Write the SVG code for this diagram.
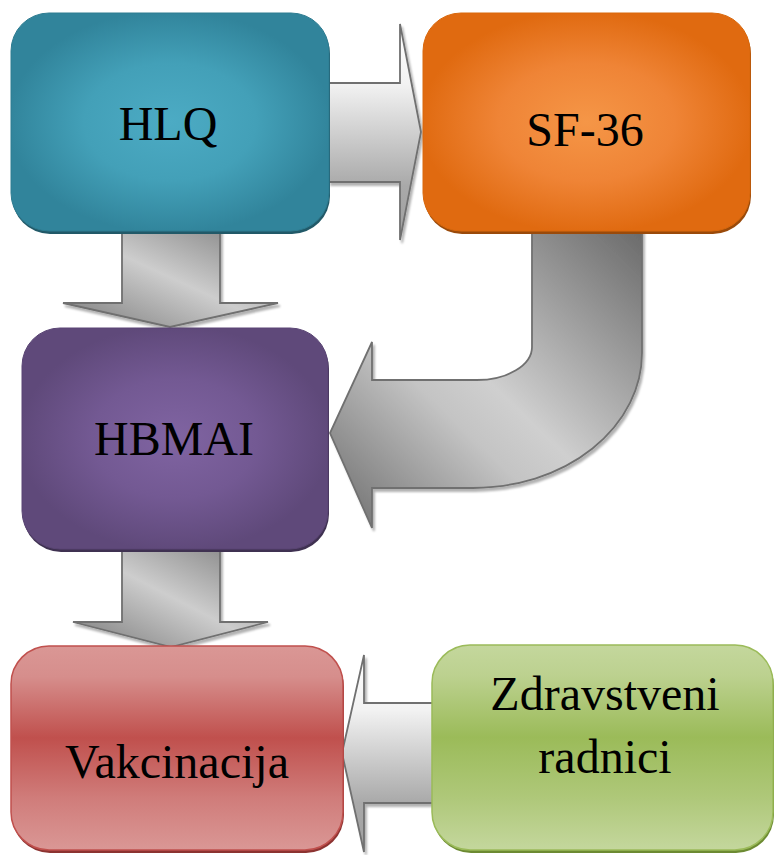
<svg xmlns="http://www.w3.org/2000/svg" width="775" height="855" viewBox="0 0 775 855">
  <defs>
    <style>
      .label { font-family: "Liberation Serif", "Times New Roman", serif; font-size: 48px; fill: #000; text-anchor: middle; }
      .arrow { stroke: #707070; stroke-width: 1.8; stroke-linejoin: miter; filter: url(#arrowShadow); }
    </style>
    <filter id="arrowShadow" x="-10%" y="-10%" width="130%" height="130%">
      <feDropShadow dx="2" dy="3" stdDeviation="1.2" flood-color="#000" flood-opacity="0.3"/>
    </filter>
    <!-- box fills -->
    <radialGradient id="gTeal" cx="0.5" cy="0.5" r="0.6">
      <stop offset="0" stop-color="#4cabc4"/>
      <stop offset="0.45" stop-color="#43a0b8"/>
      <stop offset="0.85" stop-color="#31849b"/>
    </radialGradient>
    <radialGradient id="gOrange" cx="0.5" cy="0.5" r="0.6">
      <stop offset="0" stop-color="#f59647"/>
      <stop offset="0.45" stop-color="#ef8436"/>
      <stop offset="0.85" stop-color="#e06a10"/>
    </radialGradient>
    <radialGradient id="gPurple" cx="0.5" cy="0.5" r="0.6">
      <stop offset="0" stop-color="#8064a2"/>
      <stop offset="0.45" stop-color="#735993"/>
      <stop offset="0.85" stop-color="#5f497a"/>
    </radialGradient>
    <linearGradient id="gRed" x1="0" y1="0" x2="0" y2="1">
      <stop offset="0" stop-color="#da9795"/>
      <stop offset="0.15" stop-color="#d68e8c"/>
      <stop offset="0.45" stop-color="#c0504d"/>
      <stop offset="0.75" stop-color="#d07d7b"/>
      <stop offset="1" stop-color="#da9795"/>
    </linearGradient>
    <linearGradient id="gGreen" x1="0" y1="0" x2="0" y2="1">
      <stop offset="0" stop-color="#c4d79d"/>
      <stop offset="0.15" stop-color="#bcd18f"/>
      <stop offset="0.45" stop-color="#9bbb59"/>
      <stop offset="0.75" stop-color="#afc87a"/>
      <stop offset="1" stop-color="#c4d79d"/>
    </linearGradient>
    <!-- connector fills -->
    <linearGradient id="gArrowDiag" x1="1" y1="0" x2="0" y2="1">
      <stop offset="0" stop-color="#7a7a7a"/>
      <stop offset="0.5" stop-color="#cdcdcd"/>
      <stop offset="1" stop-color="#7a7a7a"/>
    </linearGradient>
    <linearGradient id="gArrowVert" x1="0" y1="0" x2="0" y2="1">
      <stop offset="0" stop-color="#ffffff"/>
      <stop offset="0.28" stop-color="#f2f2f2"/>
      <stop offset="0.75" stop-color="#a9a9a9"/>
      <stop offset="1" stop-color="#a0a0a0"/>
    </linearGradient>
    <linearGradient id="gArrowCurve" x1="1" y1="0" x2="0" y2="1">
      <stop offset="0" stop-color="#6a6a6a"/>
      <stop offset="0.5" stop-color="#cfcfcf"/>
      <stop offset="0.62" stop-color="#c4c4c4"/>
      <stop offset="1" stop-color="#6a6a6a"/>
    </linearGradient>
  </defs>

  <rect width="775" height="855" fill="#fff"/>

  <g id="connectors">
    <!-- HLQ to SF-36 -->
    <path class="arrow" fill="url(#gArrowVert)" d="M329,83 L400,83 L400,24 L421,132 L400,240 L400,182 L329,182 Z"/>
    <!-- HLQ to HBMAI -->
    <path class="arrow" fill="url(#gArrowDiag)" d="M122,228 L220,228 L220,303 L278,303 L170,327 L63,303 L122,303 Z"/>
    <!-- SF-36 to HBMAI (bent) -->
    <path class="arrow" fill="url(#gArrowCurve)" d="M532,230 L532,347 A55,33 0 0 1 477,380 L372,380 L372,342 L330,433 L372,528 L372,488 L473,488 A169,135 0 0 0 642,353 L642,230 Z"/>
    <!-- HBMAI to Vakcinacija -->
    <path class="arrow" fill="url(#gArrowDiag)" d="M122,546 L220,546 L220,622 L268,622 L171,647 L73,622 L122,622 Z"/>
    <!-- Zdravstveni radnici to Vakcinacija -->
    <path class="arrow" fill="url(#gArrowVert)" d="M434,703 L364,703 L364,655 L342,753 L364,852 L364,803 L434,803 Z"/>
  </g>

  <g id="node-hlq">
    <rect x="12" y="16" width="318" height="218" rx="38" fill="#215968"/>
    <rect x="11" y="13" width="318" height="218" rx="38" fill="url(#gTeal)" stroke="#2e7c91" stroke-width="1"/>
    <text class="label" x="168" y="140">HLQ</text>
  </g>

  <g id="node-sf36">
    <rect x="424" y="16" width="327" height="218" rx="38" fill="#9a4a0a"/>
    <rect x="423" y="13" width="327" height="218" rx="38" fill="url(#gOrange)" stroke="#d9680c" stroke-width="1"/>
    <text class="label" x="585" y="146">SF-36</text>
  </g>

  <g id="node-hbmai">
    <rect x="23" y="331" width="306" height="221" rx="38" fill="#3f3151"/>
    <rect x="22" y="328" width="306" height="221" rx="38" fill="url(#gPurple)" stroke="#5a4574" stroke-width="1"/>
    <text class="label" x="174" y="455">HBMAI</text>
  </g>

  <g id="node-vakcinacija">
    <rect x="12" y="649" width="332" height="204" rx="38" fill="#8c3331"/>
    <rect x="11" y="646" width="332" height="204" rx="38" fill="url(#gRed)" stroke="#c0504d" stroke-width="1.5"/>
    <text class="label" x="177" y="778">Vakcinacija</text>
  </g>

  <g id="node-zdravstveni">
    <rect x="433" y="648" width="341" height="205" rx="38" fill="#6c8a32"/>
    <rect x="432" y="645" width="341" height="205" rx="38" fill="url(#gGreen)" stroke="#9bbb59" stroke-width="1.5"/>
    <text class="label" x="605" y="710">Zdravstveni</text>
    <text class="label" x="605" y="773">radnici</text>
  </g>
</svg>
